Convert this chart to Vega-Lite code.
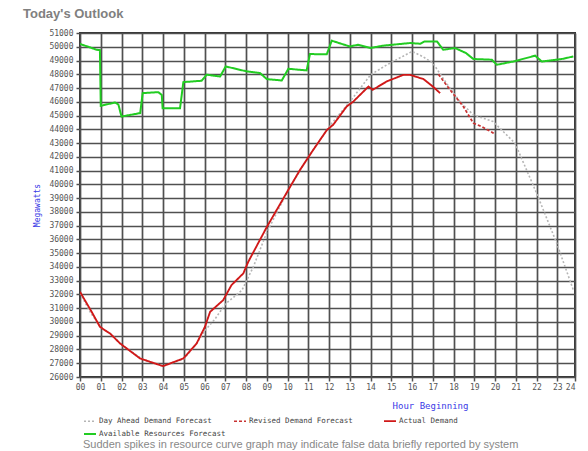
{
  "$schema": "https://vega.github.io/schema/vega-lite/v6.json",
  "width": 495,
  "height": 344,
  "autosize": "none",
  "padding": {"left": 80, "top": 33, "right": 13, "bottom": 74},
  "background": "white",
  "title": {
    "text": "Today's Outlook",
    "anchor": "start",
    "frame": "group",
    "dx": -57,
    "offset": 8,
    "font": "Liberation Sans",
    "fontSize": 13,
    "fontWeight": "bold",
    "color": "#808080"
  },
  "config": {
    "view": {"stroke": "#333333", "strokeWidth": 2},
    "axis": {
      "labelFont": "DejaVu Sans Mono",
      "labelFontSize": 8,
      "labelColor": "#555555",
      "gridColor": "#505050",
      "gridWidth": 1.7,
      "gridOpacity": 1,
      "domain": false,
      "tickColor": "#505050",
      "tickSize": 4,
      "tickWidth": 1.5,
      "titleFont": "DejaVu Sans Mono",
      "titleFontWeight": "normal",
      "titleColor": "#3a3ae6"
    }
  },
  "data": {
    "values": [
      {"series": "Day Ahead Demand Forecast", "hour": 0, "mw": 32100},
      {"series": "Day Ahead Demand Forecast", "hour": 0.5, "mw": 30700},
      {"series": "Day Ahead Demand Forecast", "hour": 1, "mw": 29600},
      {"series": "Day Ahead Demand Forecast", "hour": 1.5, "mw": 29100},
      {"series": "Day Ahead Demand Forecast", "hour": 2, "mw": 28350},
      {"series": "Day Ahead Demand Forecast", "hour": 3, "mw": 27300},
      {"series": "Day Ahead Demand Forecast", "hour": 4, "mw": 26800},
      {"series": "Day Ahead Demand Forecast", "hour": 5, "mw": 27300},
      {"series": "Day Ahead Demand Forecast", "hour": 5.6, "mw": 28400},
      {"series": "Day Ahead Demand Forecast", "hour": 6, "mw": 29350},
      {"series": "Day Ahead Demand Forecast", "hour": 6.5, "mw": 30200},
      {"series": "Day Ahead Demand Forecast", "hour": 7, "mw": 31300},
      {"series": "Day Ahead Demand Forecast", "hour": 7.8, "mw": 32300},
      {"series": "Day Ahead Demand Forecast", "hour": 8.35, "mw": 34000},
      {"series": "Day Ahead Demand Forecast", "hour": 9, "mw": 36500},
      {"series": "Day Ahead Demand Forecast", "hour": 10, "mw": 39500},
      {"series": "Day Ahead Demand Forecast", "hour": 11, "mw": 42000},
      {"series": "Day Ahead Demand Forecast", "hour": 12, "mw": 44200},
      {"series": "Day Ahead Demand Forecast", "hour": 13, "mw": 46000},
      {"series": "Day Ahead Demand Forecast", "hour": 14, "mw": 47960},
      {"series": "Day Ahead Demand Forecast", "hour": 14.8, "mw": 48700},
      {"series": "Day Ahead Demand Forecast", "hour": 15.4, "mw": 49180},
      {"series": "Day Ahead Demand Forecast", "hour": 16, "mw": 49660},
      {"series": "Day Ahead Demand Forecast", "hour": 16.5, "mw": 49300},
      {"series": "Day Ahead Demand Forecast", "hour": 17, "mw": 48820},
      {"series": "Day Ahead Demand Forecast", "hour": 17.65, "mw": 47360},
      {"series": "Day Ahead Demand Forecast", "hour": 18.3, "mw": 46020},
      {"series": "Day Ahead Demand Forecast", "hour": 18.95, "mw": 45050},
      {"series": "Day Ahead Demand Forecast", "hour": 19.9, "mw": 44570},
      {"series": "Day Ahead Demand Forecast", "hour": 20.96, "mw": 42990},
      {"series": "Day Ahead Demand Forecast", "hour": 22, "mw": 39360},
      {"series": "Day Ahead Demand Forecast", "hour": 22.97, "mw": 35720},
      {"series": "Day Ahead Demand Forecast", "hour": 23.77, "mw": 32320},

      {"series": "Actual Demand", "hour": 0, "mw": 32190},
      {"series": "Actual Demand", "hour": 0.56, "mw": 30740},
      {"series": "Actual Demand", "hour": 0.96, "mw": 29650},
      {"series": "Actual Demand", "hour": 1.2, "mw": 29400},
      {"series": "Actual Demand", "hour": 1.45, "mw": 29160},
      {"series": "Actual Demand", "hour": 1.93, "mw": 28440},
      {"series": "Actual Demand", "hour": 2.89, "mw": 27350},
      {"series": "Actual Demand", "hour": 4.0, "mw": 26790},
      {"series": "Actual Demand", "hour": 4.98, "mw": 27350},
      {"series": "Actual Demand", "hour": 5.62, "mw": 28440},
      {"series": "Actual Demand", "hour": 6.02, "mw": 29650},
      {"series": "Actual Demand", "hour": 6.27, "mw": 30740},
      {"series": "Actual Demand", "hour": 6.9, "mw": 31590},
      {"series": "Actual Demand", "hour": 7.3, "mw": 32680},
      {"series": "Actual Demand", "hour": 7.87, "mw": 33530},
      {"series": "Actual Demand", "hour": 8.11, "mw": 34380},
      {"series": "Actual Demand", "hour": 9.0, "mw": 36900},
      {"series": "Actual Demand", "hour": 9.5, "mw": 38200},
      {"series": "Actual Demand", "hour": 10.0, "mw": 39500},
      {"series": "Actual Demand", "hour": 10.6, "mw": 41050},
      {"series": "Actual Demand", "hour": 11.24, "mw": 42510},
      {"series": "Actual Demand", "hour": 11.9, "mw": 43960},
      {"series": "Actual Demand", "hour": 12.2, "mw": 44330},
      {"series": "Actual Demand", "hour": 12.85, "mw": 45660},
      {"series": "Actual Demand", "hour": 13.17, "mw": 46020},
      {"series": "Actual Demand", "hour": 13.9, "mw": 47110},
      {"series": "Actual Demand", "hour": 14.1, "mw": 46870},
      {"series": "Actual Demand", "hour": 14.78, "mw": 47480},
      {"series": "Actual Demand", "hour": 15.58, "mw": 47960},
      {"series": "Actual Demand", "hour": 15.9, "mw": 47960},
      {"series": "Actual Demand", "hour": 16.55, "mw": 47650},
      {"series": "Actual Demand", "hour": 17.0, "mw": 47110},
      {"series": "Actual Demand", "hour": 17.35, "mw": 46630},

      {"series": "Revised Demand Forecast", "hour": 17.27, "mw": 48000},
      {"series": "Revised Demand Forecast", "hour": 17.83, "mw": 46870},
      {"series": "Revised Demand Forecast", "hour": 18.47, "mw": 45660},
      {"series": "Revised Demand Forecast", "hour": 18.95, "mw": 44450},
      {"series": "Revised Demand Forecast", "hour": 19.36, "mw": 44200},
      {"series": "Revised Demand Forecast", "hour": 19.92, "mw": 43720},
      {"series": "Revised Demand Forecast", "hour": 20.0, "mw": 43600},

      {"series": "Available Resources Forecast", "hour": 0, "mw": 50200},
      {"series": "Available Resources Forecast", "hour": 0.4, "mw": 50000},
      {"series": "Available Resources Forecast", "hour": 0.8, "mw": 49780},
      {"series": "Available Resources Forecast", "hour": 0.96, "mw": 49750},
      {"series": "Available Resources Forecast", "hour": 1.0, "mw": 45710},
      {"series": "Available Resources Forecast", "hour": 1.69, "mw": 45950},
      {"series": "Available Resources Forecast", "hour": 1.85, "mw": 45800},
      {"series": "Available Resources Forecast", "hour": 2.0, "mw": 44930},
      {"series": "Available Resources Forecast", "hour": 2.9, "mw": 45180},
      {"series": "Available Resources Forecast", "hour": 3.02, "mw": 46630},
      {"series": "Available Resources Forecast", "hour": 3.77, "mw": 46700},
      {"series": "Available Resources Forecast", "hour": 3.94, "mw": 46500},
      {"series": "Available Resources Forecast", "hour": 3.98, "mw": 45540},
      {"series": "Available Resources Forecast", "hour": 4.82, "mw": 45540},
      {"series": "Available Resources Forecast", "hour": 4.98, "mw": 47430},
      {"series": "Available Resources Forecast", "hour": 5.86, "mw": 47530},
      {"series": "Available Resources Forecast", "hour": 6.1, "mw": 47970},
      {"series": "Available Resources Forecast", "hour": 6.75, "mw": 47840},
      {"series": "Available Resources Forecast", "hour": 7.02, "mw": 48570},
      {"series": "Available Resources Forecast", "hour": 8.03, "mw": 48210},
      {"series": "Available Resources Forecast", "hour": 8.67, "mw": 48090},
      {"series": "Available Resources Forecast", "hour": 9.0, "mw": 47650},
      {"series": "Available Resources Forecast", "hour": 9.72, "mw": 47550},
      {"series": "Available Resources Forecast", "hour": 10.04, "mw": 48400},
      {"series": "Available Resources Forecast", "hour": 10.92, "mw": 48280},
      {"series": "Available Resources Forecast", "hour": 11.08, "mw": 49470},
      {"series": "Available Resources Forecast", "hour": 11.89, "mw": 49450},
      {"series": "Available Resources Forecast", "hour": 12.13, "mw": 50440},
      {"series": "Available Resources Forecast", "hour": 13.0, "mw": 50020},
      {"series": "Available Resources Forecast", "hour": 13.4, "mw": 50150},
      {"series": "Available Resources Forecast", "hour": 13.98, "mw": 49910},
      {"series": "Available Resources Forecast", "hour": 14.6, "mw": 50080},
      {"series": "Available Resources Forecast", "hour": 15.9, "mw": 50270},
      {"series": "Available Resources Forecast", "hour": 16.4, "mw": 50220},
      {"series": "Available Resources Forecast", "hour": 16.6, "mw": 50390},
      {"series": "Available Resources Forecast", "hour": 17.2, "mw": 50390},
      {"series": "Available Resources Forecast", "hour": 17.5, "mw": 49780},
      {"series": "Available Resources Forecast", "hour": 18.07, "mw": 49910},
      {"series": "Available Resources Forecast", "hour": 18.6, "mw": 49540},
      {"series": "Available Resources Forecast", "hour": 18.95, "mw": 49110},
      {"series": "Available Resources Forecast", "hour": 19.84, "mw": 49060},
      {"series": "Available Resources Forecast", "hour": 20.08, "mw": 48690},
      {"series": "Available Resources Forecast", "hour": 20.88, "mw": 48930},
      {"series": "Available Resources Forecast", "hour": 21.93, "mw": 49350},
      {"series": "Available Resources Forecast", "hour": 22.25, "mw": 48930},
      {"series": "Available Resources Forecast", "hour": 23.3, "mw": 49130},
      {"series": "Available Resources Forecast", "hour": 23.77, "mw": 49300}
    ]
  },
  "mark": {"type": "line", "clip": true},
  "encoding": {
    "x": {
      "field": "hour",
      "type": "quantitative",
      "scale": {"domain": [0, 23.85], "nice": false, "zero": false},
      "axis": {
        "values": [0,1,2,3,4,5,6,7,8,9,10,11,12,13,14,15,16,17,18,19,20,21,22,23,23.85],
        "labelExpr": "datum.value > 23.5 ? '24' : (datum.value < 10 ? '0' + datum.value : '' + datum.value)",
        "labelAlign": {"condition": {"test": "datum.value > 23.5", "value": "right"}, "value": "center"},
        "labelDx": 1,
        "labelPadding": 2,
        "labelFlush": false,
        "labelOverlap": false,
        "title": "Hour Beginning",
        "titleFontSize": 9,
        "titleX": 350,
        "titleY": 28,
        "titleAlign": "center",
        "titleBaseline": "middle"
      }
    },
    "y": {
      "field": "mw",
      "type": "quantitative",
      "scale": {"domain": [26000, 51000], "nice": false, "zero": false},
      "axis": {
        "values": [26000,27000,28000,29000,30000,31000,32000,33000,34000,35000,36000,37000,38000,39000,40000,41000,42000,43000,44000,45000,46000,47000,48000,49000,50000,51000],
        "format": "d",
        "labelPadding": 3,
        "labelOverlap": false,
        "labelFlush": false,
        "title": "Megawatts",
        "titleFontSize": 8,
        "titleX": -43,
        "titleY": 172,
        "titleAlign": "center",
        "titleBaseline": "middle"
      }
    },
    "color": {
      "field": "series",
      "type": "nominal",
      "scale": {
        "domain": ["Day Ahead Demand Forecast", "Revised Demand Forecast", "Actual Demand", "Available Resources Forecast"],
        "range": ["#b5b5b5", "#c83232", "#d01818", "#22cc22"]
      },
      "legend": {
        "orient": "none",
        "legendX": 3,
        "legendY": 381,
        "direction": "horizontal",
        "columns": 3,
        "gridAlign": "all",
        "columnPadding": 4,
        "rowPadding": 2,
        "symbolType": "stroke",
        "symbolSize": 144,
        "symbolStrokeWidth": 3,
        "labelFont": "DejaVu Sans Mono",
        "labelFontSize": 7.5,
        "labelColor": "#444444",
        "labelOffset": 2,
        "labelLimit": 300,
        "title": "Sudden spikes in resource curve graph may indicate false data briefly reported by system",
        "titleOrient": "bottom",
        "titleAnchor": "start",
        "titleFont": "Liberation Sans",
        "titleFontSize": 11,
        "titleFontWeight": "normal",
        "titleColor": "#888888",
        "titleLimit": 600,
        "titlePadding": 1
      }
    },
    "strokeDash": {
      "field": "series",
      "type": "nominal",
      "scale": {
        "domain": ["Day Ahead Demand Forecast", "Revised Demand Forecast", "Actual Demand", "Available Resources Forecast"],
        "range": [[2, 2], [3, 2], [1, 0], [1, 0]]
      },
      "legend": null
    },
    "strokeWidth": {
      "field": "series",
      "type": "nominal",
      "scale": {
        "domain": ["Day Ahead Demand Forecast", "Revised Demand Forecast", "Actual Demand", "Available Resources Forecast"],
        "range": [1.6, 2, 2, 2.5]
      },
      "legend": null
    }
  }
}
